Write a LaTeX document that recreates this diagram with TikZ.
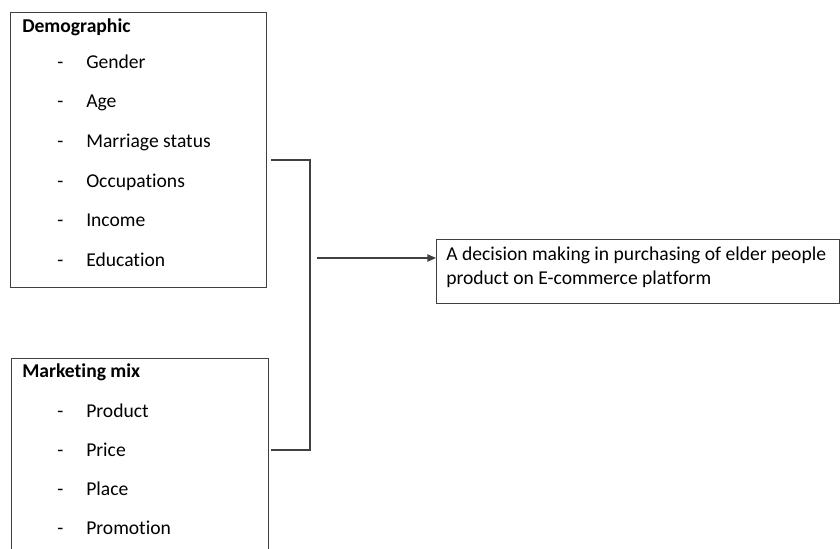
\documentclass[tikz,border=0pt]{standalone}
\usepackage{fontspec}
\setmainfont{Carlito}[Ligatures=NoCommon]
\usetikzlibrary{positioning,arrows.meta}

\begin{document}
\begin{tikzpicture}[
  x=0.75pt, y=-0.75pt,
  every node/.style={font=\fontsize{14.7}{18}\selectfont, text=black},
  box/.style={draw=\lincolor, line width=1pt, inner sep=0pt, anchor=north west},
  head/.style={anchor=west, inner sep=0pt, text height=8pt, text depth=0pt, font=\fontsize{14.7}{18}\selectfont\bfseries},
  item/.style={anchor=west, inner sep=0pt, text height=8pt, text depth=0pt},
  link/.style={draw=\lincolor, line width=1pt},
]
%-------------------------------------------------------------
\newcommand{\lincolor}{black!75}

\useasboundingbox (0,0) rectangle (840,549);

%============================================================
% demographic box
\node[box, minimum width=192pt, minimum height=206.25pt] (demo) at (10,12) {};
\node[head] (demohead) at (22,27) {Demographic};
\foreach \t [count=\i] in {Gender, Age, Marriage status, Occupations, Income, Education}{
  \node[item] (dd\i) at (57, 63+39.6*\i-39.6) {-};
  \node[item] (d\i) at (86, 63+39.6*\i-39.6) {\t};
}
%============================================================
% marketing mix box
\node[box, minimum width=192.75pt, minimum height=150pt] (mix) at (11,358) {};
\node[head] (mixhead) at (22,372) {Marketing mix};
\foreach \t [count=\i] in {Product, Price, Place, Promotion}{
  \node[item] (mm\i) at (57, 412+39*\i-39) {-};
  \node[item] (m\i) at (86, 412+39*\i-39) {\t};
}
%============================================================
% decision box
\node[box, minimum width=302.25pt, minimum height=48pt] (goal) at (436,239) {};
\node[anchor=north west, inner sep=0pt, align=left] (goaltext) at (446,247)
  {A decision making in purchasing of elder people\\product on E-commerce platform};
%============================================================

\coordinate (b1) at (271,160);
\coordinate (b2) at (271,450);
\coordinate (a0) at (317,258);

\draw[link] (b1) -- ++(39,0) |- (b2);
\draw[link, -{Triangle[length=6.5pt,width=5.5pt]}] (a0) -- (a0 -| goal.west);

\end{tikzpicture}
\end{document}
